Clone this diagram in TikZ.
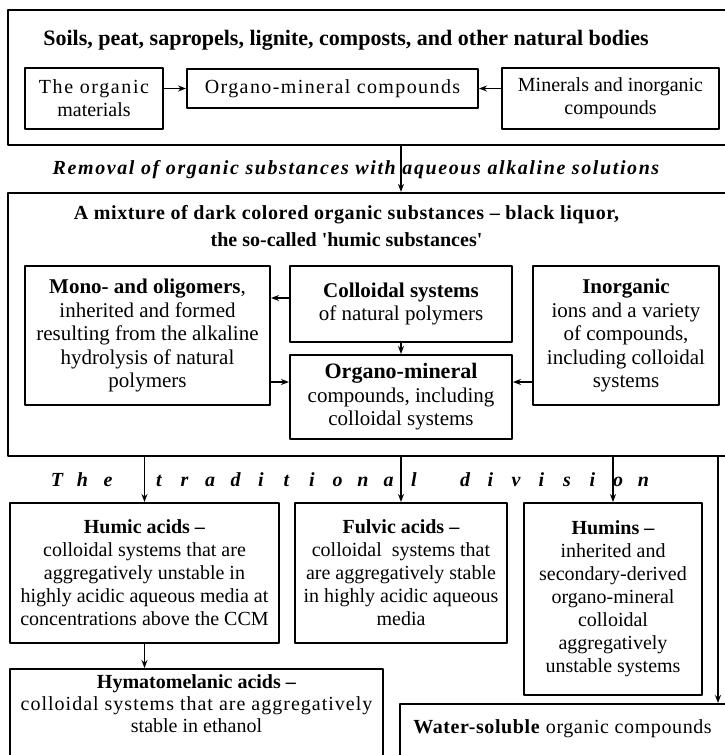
\documentclass[tikz,border=0pt]{standalone}
\usepackage{fontspec}
\setmainfont{Liberation Serif}
\usetikzlibrary{positioning,arrows.meta}
\newcommand{\tracked}[1]{\addfontfeature{LetterSpace=#1}}

\begin{document}
\begin{tikzpicture}[>={Stealth[length=8pt,width=6pt]}, x=1pt, y=-1pt, line join=round,
    box/.style={draw, line width=2pt, align=center, inner sep=0pt,
        font=\fontsize{20}{23}\selectfont},
    bigbox/.style={box, font=\fontsize{21}{23.5}\selectfont},
    frame/.style={draw, line width=2.2pt, inner sep=0pt},
    txt/.style={align=center, inner sep=0pt, font=\fontsize{20}{23}\selectfont},
    flow/.style={->, line width=1.4pt}]
    \useasboundingbox (0,0) rectangle (725,755);
    \clip (0,0) rectangle (725,755);
    % natural bodies
    \node[frame, minimum width=727pt, minimum height=135pt] (src) at (371.5,77.5) {};
    \node[txt, font=\fontsize{22}{26}\selectfont\bfseries] (ttl1) at (346,40)
        {Soils, peat, sapropels, lignite, composts, and other natural bodies};
    \node[box, minimum width=138pt, minimum height=61pt] (org) at (94,98.5) {\tracked{8}The organic\\materials};
    \node[box, minimum width=291pt, minimum height=39pt] (omt) at (332.5,88.5) {\tracked{7}Organo-mineral compounds};
    \node[box, minimum width=217pt, minimum height=61pt] (mnr) at (610.5,98.5) {Minerals and inorganic\\compounds};
    \draw[flow] (org.east |- omt) -- (omt.west);
    \draw[flow] (mnr.west |- omt) -- (omt.east);
    \node[txt, font=\fontsize{20}{23}\selectfont\bfseries\itshape] (rem) at (356,170)
        {\tracked{8}Removal of organic substances with aqueous alkaline solutions};
    % black liquor
    \node[frame, minimum width=727pt, minimum height=263pt] (mix) at (371.5,324.5) {};
    \node[txt, font=\fontsize{20}{27}\selectfont\bfseries] (ttl2) at (346.5,226.5)
        {\tracked{3}A mixture of dark colored organic substances -- black liquor,\\the so-called \textquotesingle humic substances\textquotesingle};
    \node[bigbox, minimum width=245pt, minimum height=139pt] (mono) at (147.5,335.5)
        {\textbf{Mono- and oligomers},\\inherited and formed\\resulting from the alkaline\\hydrolysis of natural\\polymers};
    \node[bigbox, minimum width=222pt, minimum height=76pt] (coll) at (401,304)
        {\textbf{Colloidal systems}\\of natural polymers};
    \node[bigbox, minimum width=222pt, minimum height=84pt] (omc) at (401,397)
        {{\fontsize{22}{23.5}\selectfont\bfseries Organo-mineral}\\compounds, including\\colloidal systems};
    \node[bigbox, minimum width=186pt, minimum height=139pt] (inorg) at (626,335.5)
        {\textbf{Inorganic}\\ions and a variety\\of compounds,\\including colloidal\\systems};
    \coordinate (c1) at ([yshift=6pt]coll.west);
    \coordinate (m1) at ([yshift=15pt]omc.west);
    \coordinate (m2) at ([yshift=15pt]omc.east);
    \draw[flow] (c1) -- (c1 -| mono.east);
    \draw[flow] (m1 -| mono.east) -- (m1);
    \draw[flow] (m2 -| inorg.west) -- (m2);
    \draw[flow] (coll) -- (omc);
    \draw[flow] (src.south -| coll) -- (mix.north -| coll);
    % the traditional division
    \foreach \c [count=\i from 0] in {T,h,e,{},t,r,a,d,i,t,i,o,n,a,l,{},d,i,v,i,s,i,o,n}
        \node[txt, anchor=base, font=\fontsize{20}{23}\selectfont\bfseries\itshape] (d\i) at (57+25.5*\i,486) {\c};
    \node[box, minimum width=269pt, minimum height=140pt] (hum) at (144.5,573)
        {\textbf{Humic acids --}\\colloidal systems that are\\aggregatively unstable in\\highly acidic aqueous media at\\concentrations above the CCM};
    \node[box, minimum width=212pt, minimum height=140pt] (ful) at (401,573)
        {\textbf{Fulvic acids --}\\colloidal\ \ systems that\\are aggregatively stable\\in highly acidic aqueous\\media};
    \node[box, minimum width=178pt, minimum height=192pt] (hmn) at (613,599)
        {\textbf{Humins --}\\inherited and\\secondary-derived\\organo-mineral\\colloidal\\aggregatively\\unstable systems};
    \draw[flow] (mix.south -| hum) -- (hum.north);
    \draw[flow] (mix.south -| ful) -- (ful.north);
    \draw[flow] (mix.south -| hmn) -- (hmn.north);
    \node[box, minimum width=373pt, minimum height=130pt, anchor=north] (hym) at (196.5,668) {};
    \node[txt, below=6pt of hym.north, font=\fontsize{20}{22}\selectfont] (hymt)
        {\textbf{Hymatomelanic acids --}\\\tracked{5}colloidal systems that are aggregatively\\stable in ethanol};
    \draw[flow] (hum.south) -- (hum.south |- hym.north);
    \node[box, minimum width=341pt, minimum height=90pt, anchor=north west] (wat) at (399,703) {};
    \node[txt, below=16pt of wat.north, xshift=-8pt] (watt)
        {\tracked{3}\textbf{Water-soluble} organic compounds};
    \coordinate (rt) at (718,0);
    \draw[flow] (mix.south -| rt) -- (wat.north -| rt);
\end{tikzpicture}
\end{document}
